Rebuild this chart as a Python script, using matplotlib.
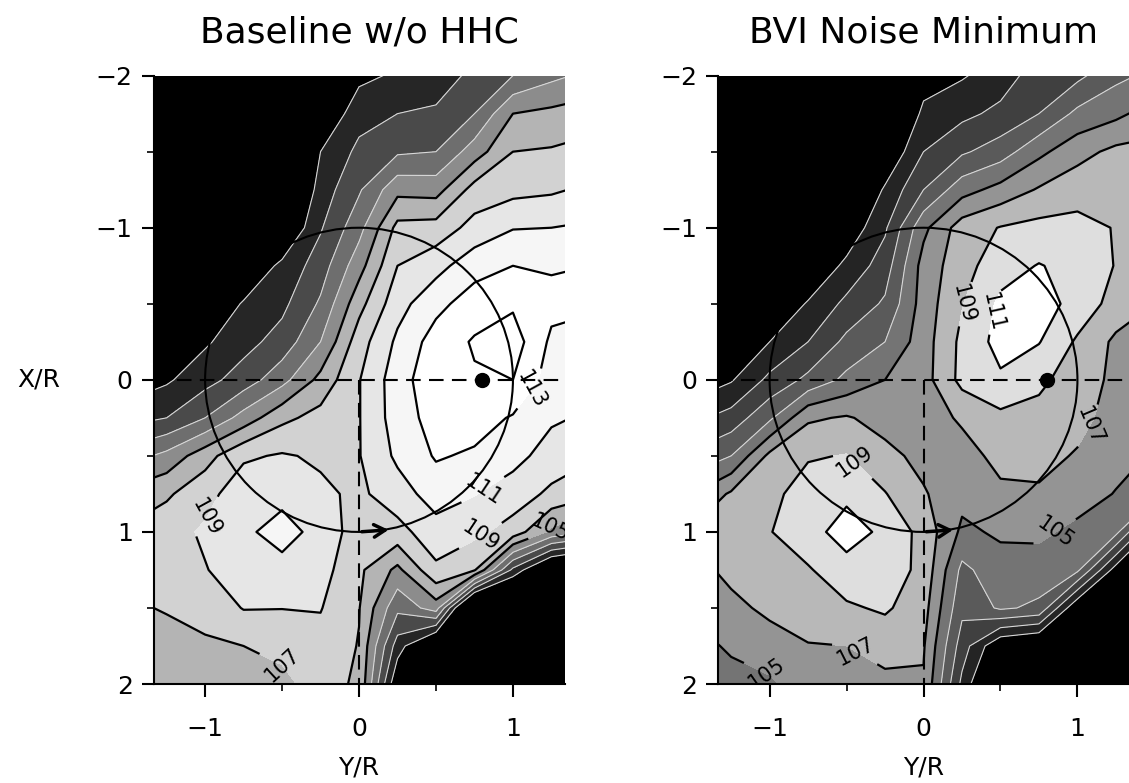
import numpy as np
import matplotlib
matplotlib.use('Agg')
import matplotlib.pyplot as plt
from matplotlib.patches import Circle

# measurement stations: Y/R across the plot, X/R down the plot
y_r = [-1.5, -1.25, -1.0, -0.75, -0.5, -0.25, 0.0, 0.25, 0.5, 0.75, 1.0, 1.25, 1.5]
x_r = [-2.0, -1.75, -1.5, -1.25, -1.0, -0.75, -0.5, -0.25, 0.0,
       0.25, 0.5, 0.75, 1.0, 1.25, 1.5, 1.75, 2.0]

# BVI noise level (dB), one list per Y/R station, X/R from -2 to 2
baseline_cols = [
    [86, 86.5, 87, 88, 89, 90, 91.5, 93.5, 95.5, 98.3, 102, 105.7, 107.3, 108, 106.8, 106.3, 106],
    [86.5, 87, 88, 89, 90, 91, 92.5, 94.5, 96.7, 99, 103.6, 106.7, 108.2, 108.4, 107.1, 106.5, 106],
    [87, 88, 89, 90, 91.5, 93, 95, 96.7, 98.3, 101, 106.2, 108.3, 109.3, 108.9, 107.7, 106.7, 106],
    [88, 89, 90, 91.5, 93, 95, 97.2, 98.3, 99.9, 103.8, 108.7, 110.2, 110.6, 110.0, 109.1, 107.0, 106.5],
    [89, 90, 91, 92.5, 94.5, 97.5, 98.5, 99.8, 102.3, 106.5, 109.2, 110.4, 111.8, 110.3, 109.05, 107.3, 106.7],
    [93, 95, 97, 97.9, 98.8, 100, 101.3, 103, 105.6, 107.7, 108.7, 109.4, 110.3, 109.8, 109.1, 108.3, 107.5],
    [96.5, 98.2, 99.5, 100.75, 102.3, 104.2, 106.3, 108.1, 108.9, 108.9, 108.9, 108.6, 108.0, 107.4, 107.1, 106.9, 106.8],
    [97.3, 99, 100.7, 104.4, 107.6, 109, 110.25, 111.4, 112.1, 112.0, 111.4, 110.1, 108.3, 104.5, 101.5, 98, 95],
    [98, 99.3, 101, 104.2, 107.8, 110.3, 112.4, 113.9, 114.4, 113.8, 113.2, 111.9, 110.2, 108.6, 104, 93, 91],
    [99.5, 101, 104, 107.8, 109.7, 112.2, 114, 115.2, 114.8, 113.9, 112.7, 111.1, 109.5, 107.2, 90, 89, 88],
    [101, 105, 107, 108.4, 110.9, 113, 114.7, 116, 115, 112.8, 111.7, 110.0, 108.2, 98.5, 90, 89, 88],
    [102.5, 105.5, 107.2, 108.7, 111, 112.8, 113.6, 112.6, 112, 111.3, 110.1, 108.6, 104.5, 93, 90, 89, 88],
    [103.5, 106, 107.7, 109.4, 111.3, 113, 113.2, 112.5, 111.6, 110.7, 109.3, 107.5, 103, 91, 89, 88, 87],
]

minimum_cols = [
    [86, 86.5, 87, 88, 89, 90, 91.5, 93.5, 95.5, 98.5, 101.5, 105, 107.3, 106.2, 105.3, 104.5, 104],
    [87, 87.5, 88, 89, 90, 91, 92.5, 94.5, 96.8, 99.8, 103, 107.3, 108.3, 107.6, 106.4, 105.2, 104.5],
    [88, 88.5, 89, 90, 91.5, 93, 95, 97, 99.5, 102.6, 107.5, 108.4, 108.9, 108.6, 107.5, 106.0, 104.7],
    [89, 89.5, 90.5, 91.5, 93, 95, 97.2, 99, 101.5, 106.7, 108.8, 110, 110.3, 108.8, 108.0, 106.9, 106],
    [90, 91, 92, 93.5, 95.5, 97.5, 99.5, 101.5, 103.5, 107.2, 109.1, 110.6, 111.8, 110.3, 108.7, 107.0, 106.3],
    [91.5, 93, 95, 97.3, 98.7, 100, 101.3, 103, 105, 106.2, 107.6, 109.1, 110.6, 110.2, 109.3, 107.6, 106.6],
    [96, 97.5, 99, 101, 104.5, 105.8, 105.9, 106.1, 106.2, 106.0, 106.4, 107.2, 108.3, 108.4, 107.8, 107.2, 106.8],
    [96.8, 98.5, 100.7, 104.2, 108, 108.2, 108.9, 109.5, 109.6, 107.3, 106.2, 105.6, 104.6, 102.5, 101.5, 100, 98.5],
    [98, 99.5, 102, 105.7, 109.1, 110.2, 111.4, 111.7, 110.7, 108.5, 107.6, 106.6, 105.3, 104.2, 103.3, 95, 92],
    [100, 101, 104.5, 107.2, 109.6, 111.1, 111.9, 111.1, 109.4, 108.4, 107.7, 106.7, 105.4, 104.1, 102.6, 94, 91],
    [100.5, 103.5, 106.3, 108.2, 109.6, 110.4, 110.3, 108.7, 108.1, 107.7, 106.8, 105.9, 104.5, 103.4, 95, 92, 90],
    [102.5, 104.5, 107.5, 108.4, 108.9, 108.9, 108.2, 106.6, 106.5, 106.1, 105.7, 104.9, 103.6, 96, 92, 90, 89],
    [103.5, 106, 107.6, 108.2, 108.5, 108.2, 107.0, 106.3, 105.8, 105.4, 104.8, 103.8, 96, 92, 90, 89, 88],
]

fill_levels = [80, 97, 99, 101, 103, 105, 107, 109, 111, 113, 115, 125]
dark_lines = [97, 99, 101, 103]
black_lines = [105, 107, 109, 111, 113, 115]

baseline_grays = ['#000000', '#262626', '#4a4a4a', '#6e6e6e', '#8c8c8c', '#b4b4b4',
                  '#d2d2d2', '#e6e6e6', '#f6f6f6', '#ffffff', '#ffffff']
minimum_grays = ['#000000', '#242424', '#404040', '#5a5a5a', '#747474', '#949494',
                 '#b8b8b8', '#dedede', '#ffffff', '#ffffff', '#ffffff']

# contour labels: (level, Y/R, X/R)
baseline_labels = [(109, -1.0, 0.9), (107, -0.42, 1.8), (113, 1.1, 0.05),
                   (111, 0.85, 0.78), (109, 0.8, 1.04), (105, 1.24, 0.97)]
minimum_labels = [(109, 0.26, -0.5), (111, 0.42, -0.45), (109, -0.4, 0.5),
                  (107, -0.45, 1.8), (107, 1.07, 0.3), (105, -1.0, 1.9),
                  (105, 0.85, 1.0)]

hub_dot = (0.8, 0.0)

plt.rcParams['font.family'] = 'DejaVu Sans'

fig = plt.figure(figsize=(11.29, 7.83), dpi=100)
ax1 = fig.add_axes([0.136, 0.1264, 0.364, 0.777])
ax2 = fig.add_axes([0.636, 0.1264, 0.364, 0.777])

panels = [
    (ax1, baseline_cols, baseline_grays, baseline_labels, 'Baseline w/o HHC'),
    (ax2, minimum_cols, minimum_grays, minimum_labels, 'BVI Noise Minimum'),
]

Y, X = np.meshgrid(y_r, x_r)

for ax, cols, grays, labels, title in panels:
    Z = np.array(cols).T
    ax.contourf(Y, X, Z, levels=fill_levels, colors=grays)
    ax.contour(Y, X, Z, levels=dark_lines, colors='#d8d8d8', linewidths=0.8)
    line_sets = {}
    for lev in black_lines:
        line_sets[lev] = ax.contour(Y, X, Z, levels=[lev], colors='black',
                                    linewidths=1.6)
    for lev, yy, xx in labels:
        ax.clabel(line_sets[lev], manual=[(yy, xx)], fmt='%d',
                  fontsize=15, inline=True, inline_spacing=3)

    # rotor disk, reference lines, direction arrow and hub marker
    ax.add_patch(Circle((0, 0), 1.0, fill=False, ec='black', lw=1.5, zorder=5))
    ax.axhline(0, color='black', lw=1.5, ls=(0, (7, 4)), zorder=5)
    ax.plot([0, 0], [0, 2], color='black', lw=1.5, ls=(0, (7, 4)), zorder=5)
    ax.annotate('', xy=(0.21, 0.985), xytext=(0.0, 1.0),
                arrowprops=dict(arrowstyle='->,head_length=0.8,head_width=0.45',
                                lw=2.5, color='black'), zorder=6)
    ax.plot(*hub_dot, 'o', color='black', ms=10, zorder=6)

    ax.set_xlim(-1.335, 1.335)
    ax.set_ylim(2, -2)
    ax.set_xticks([-1, 0, 1])
    ax.set_xticks([-0.5, 0.5], minor=True)
    ax.set_yticks([-2, -1, 0, 1, 2])
    ax.set_yticks([-1.5, -0.5, 0.5, 1.5], minor=True)
    ax.tick_params(which='major', direction='out', length=9, width=1.5,
                   labelsize=18)
    ax.tick_params(which='minor', direction='out', length=5, width=1.2)
    ax.tick_params(axis='x', which='major', pad=15)
    ax.tick_params(axis='y', which='major', pad=6)
    for side in ['top', 'right']:
        ax.spines[side].set_visible(False)
    for side in ['left', 'bottom']:
        ax.spines[side].set_linewidth(1.5)
    ax.set_xlabel('Y/R', fontsize=18, labelpad=10)
    ax.set_title(title, fontsize=26, pad=24)

ax1.set_ylabel('X/R', fontsize=18, rotation=0, ha='center', va='center')
ax1.yaxis.set_label_coords(-0.279, 0.5)

fig.savefig('out.png', dpi=100)
